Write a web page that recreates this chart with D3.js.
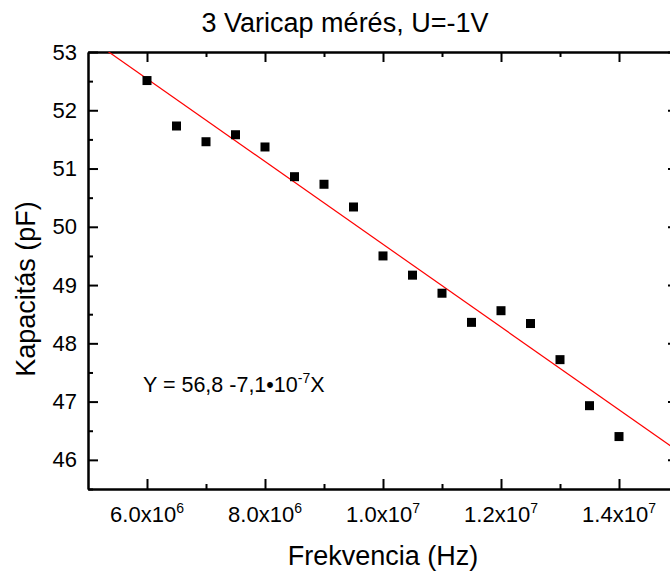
<!DOCTYPE html>
<html>
<head>
<meta charset="utf-8">
<script src="https://cdn.jsdelivr.net/npm/d3@7"></script>
<style>
  body { margin: 0; background: #fff; }
  svg { display: block; font-family: "Liberation Sans", Arial, sans-serif; }
  .axis path, .axis line { stroke: #000; stroke-width: 2; }
  .axis text { fill: #000; font-size: 22px; }
</style>
</head>
<body>
<div id="chart"></div>
<script>
// Measured points (frequency in Hz, capacitance in pF)
var frequencies = [6.0e6, 6.5e6, 7.0e6, 7.5e6, 8.0e6, 8.5e6, 9.0e6, 9.5e6, 1.0e7,
                   1.05e7, 1.1e7, 1.15e7, 1.2e7, 1.25e7, 1.3e7, 1.35e7, 1.4e7];
var capacities = [52.51, 51.73, 51.46, 51.58, 51.37, 50.86, 50.73, 50.34, 49.50,
                  49.17, 48.86, 48.36, 48.56, 48.34, 47.72, 46.93, 46.40];

// Linear fit as printed on the chart
var fitIntercept = 56.8;
var fitSlope = -7.1e-7;

// Tick values and labels
var xMajorTicks = [6e6, 8e6, 1e7, 1.2e7, 1.4e7];
var xTickMantissa = ["6.0x10", "8.0x10", "1.0x10", "1.2x10", "1.4x10"];
var xTickExponent = ["6", "6", "7", "7", "7"];
var xMinorTicks = [7e6, 9e6, 1.1e7, 1.3e7, 1.5e7];
var yMajorTicks = [46, 47, 48, 49, 50, 51, 52, 53];
var yMinorTicks = [45.5, 46.5, 47.5, 48.5, 49.5, 50.5, 51.5, 52.5];

var width = 670, height = 571;
var margin = {top: 52, right: -8, bottom: 82, left: 88};
var innerW = width - margin.left - margin.right,
    innerH = height - margin.top - margin.bottom;

var svg = d3.select("#chart").append("svg")
    .attr("width", width)
    .attr("height", height);

var g = svg.append("g")
    .attr("transform", "translate(" + margin.left + "," + margin.top + ")");

var x = d3.scaleLinear().domain([5e6, 1.5e7]).range([0, innerW]);
var y = d3.scaleLinear().domain([45.5, 53]).range([innerH, 0]);

g.append("clipPath").attr("id", "plot-clip")
  .append("rect").attr("width", innerW).attr("height", innerH);

// Axes: major ticks with labels, minor ticks without
function addAxis(axis, tx, ty) {
    return g.append("g").attr("class", "axis")
        .attr("transform", "translate(" + tx + "," + ty + ")")
        .call(axis);
}

addAxis(d3.axisBottom(x).tickValues(xMajorTicks)
    .tickSizeInner(-10).tickSizeOuter(0).tickFormat(""), 0, innerH);
addAxis(d3.axisBottom(x).tickValues(xMinorTicks)
    .tickSizeInner(-5).tickSizeOuter(0).tickFormat(""), 0, innerH);

addAxis(d3.axisTop(x).tickValues(xMajorTicks)
    .tickSizeInner(-10).tickSizeOuter(0).tickFormat(""), 0, 0);
addAxis(d3.axisTop(x).tickValues(xMinorTicks)
    .tickSizeInner(-5).tickSizeOuter(0).tickFormat(""), 0, 0);

addAxis(d3.axisLeft(y).tickValues(yMajorTicks)
    .tickSizeInner(-10).tickSizeOuter(0).tickPadding(11).tickFormat(d3.format("d")), 0, 0);
addAxis(d3.axisLeft(y).tickValues(yMinorTicks)
    .tickSizeInner(-5).tickSizeOuter(0).tickFormat(""), 0, 0);

addAxis(d3.axisRight(y).tickValues(yMajorTicks)
    .tickSizeInner(-10).tickSizeOuter(0).tickFormat(""), innerW, 0);
addAxis(d3.axisRight(y).tickValues(yMinorTicks)
    .tickSizeInner(-5).tickSizeOuter(0).tickFormat(""), innerW, 0);

// x tick labels with superscript exponent
var xLabels = g.append("g").attr("class", "axis")
    .selectAll("text").data(xMajorTicks).enter().append("text")
    .attr("x", function(d) { return x(d); })
    .attr("y", innerH + 33)
    .attr("text-anchor", "middle");
xLabels.append("tspan").text(function(d, i) { return xTickMantissa[i]; });
xLabels.append("tspan").attr("dy", -9).style("font-size", "14px")
    .text(function(d, i) { return xTickExponent[i]; });

// Fit line
var fitLine = d3.line()
    .x(function(d) { return x(d); })
    .y(function(d) { return y(fitIntercept + fitSlope * d); });

g.append("path")
    .attr("clip-path", "url(#plot-clip)")
    .attr("d", fitLine(x.domain()))
    .attr("fill", "none")
    .attr("stroke", "#ff0000")
    .attr("stroke-width", 1.2);

// Data points
var sz = 9;
g.selectAll("rect.pt").data(frequencies).enter().append("rect")
    .attr("class", "pt")
    .attr("x", function(d) { return x(d) - sz / 2; })
    .attr("y", function(d, i) { return y(capacities[i]) - sz / 2; })
    .attr("width", sz)
    .attr("height", sz)
    .attr("fill", "#000");

// Equation
var eq = svg.append("text")
    .attr("x", 143)
    .attr("y", 392)
    .style("font-size", "21.5px");
eq.append("tspan").text("Y = 56,8 -7,1\u202210");
eq.append("tspan").attr("dy", -9).style("font-size", "14px").text("-7");
eq.append("tspan").attr("dy", 9).text("X");

// Titles
svg.append("text")
    .attr("x", 345)
    .attr("y", 32)
    .attr("text-anchor", "middle")
    .style("font-size", "27px")
    .text("3 Varicap mérés, U=-1V");

svg.append("text")
    .attr("x", 383)
    .attr("y", 565)
    .attr("text-anchor", "middle")
    .style("font-size", "27px")
    .text("Frekvencia (Hz)");

svg.append("text")
    .attr("transform", "translate(35,289) rotate(-90)")
    .attr("text-anchor", "middle")
    .style("font-size", "27px")
    .text("Kapacitás (pF)");
</script>
</body>
</html>
